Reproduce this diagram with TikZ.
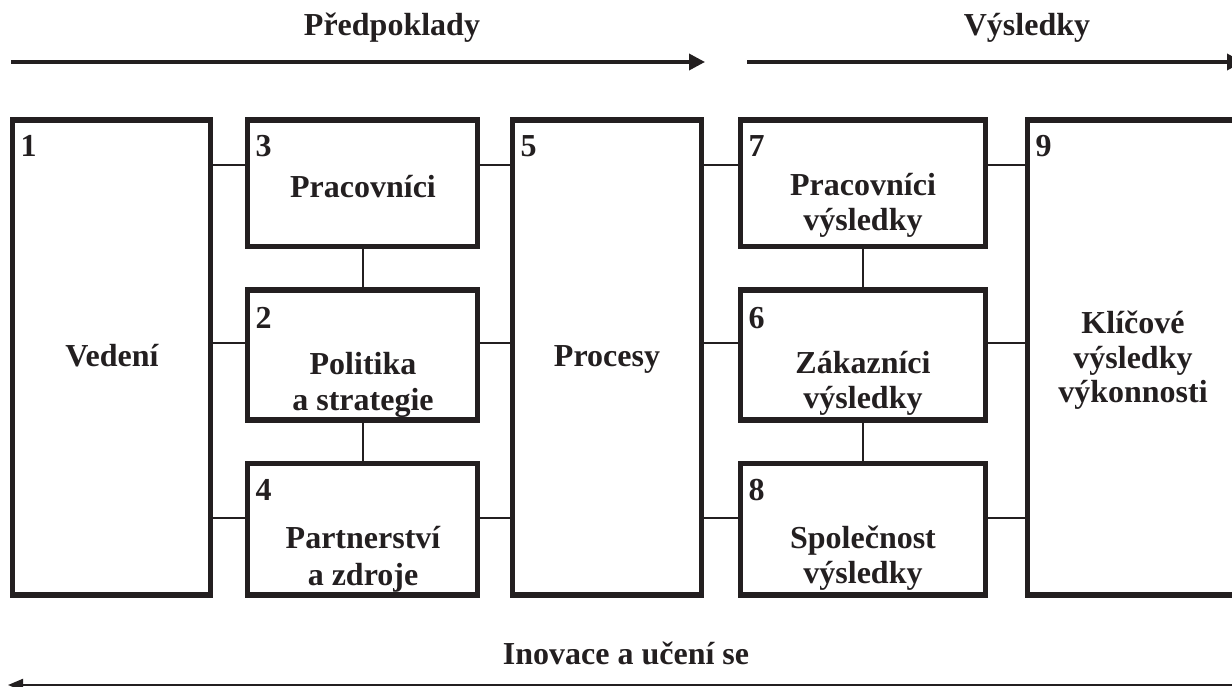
\documentclass[tikz,border=0pt]{standalone}
\usepackage{fontspec}
\setmainfont{Liberation Serif}
\usetikzlibrary{arrows.meta}
\definecolor{ink}{HTML}{231F20}
\begin{document}
\begin{tikzpicture}[x=1pt,y=-1pt,
  box/.style={draw=ink, line width=5.5pt, inner sep=0pt, outer sep=0pt, rectangle},
  conn/.style={draw=ink, line width=2pt},
  txt/.style={text=ink, inner sep=0pt, anchor=base, font=\fontsize{32}{36}\selectfont\bfseries},
  num/.style={txt, anchor=base west},
  flow/.style={draw=ink, line width=3.5pt, -{Triangle[length=16pt,width=16pt]}},
  backflow/.style={draw=ink, line width=2pt, -{Triangle[length=15pt,width=12pt]}},
]
\useasboundingbox (0,0) rectangle (1232,687);

% criteria boxes
\node[box, minimum width=198pt, minimum height=475pt]   (b1) at (111.5,357.5) {};
\node[box, minimum width=230pt, minimum height=126.5pt] (b3) at (362.5,183.25) {};
\node[box, minimum width=230pt, minimum height=130pt]   (b2) at (362.5,355) {};
\node[box, minimum width=230pt, minimum height=131.5pt] (b4) at (362.5,529.25) {};
\node[box, minimum width=189pt, minimum height=475pt]   (b5) at (607,357.5) {};
\node[box, minimum width=245pt, minimum height=126.5pt] (b7) at (863,183.25) {};
\node[box, minimum width=245pt, minimum height=130pt]   (b6) at (863,355) {};
\node[box, minimum width=245pt, minimum height=131.5pt] (b8) at (863,529.25) {};
\node[box, minimum width=212.5pt, minimum height=475pt] (b9) at (1133.75,357.5) {};

% connector levels
\coordinate (ra) at (0,165);
\coordinate (rb) at (0,343);
\coordinate (rc) at (0,518);

\foreach \l in {ra,rb,rc}{
  \draw[conn] (b1.east |- \l) -- (b3.west |- \l);
  \draw[conn] (b3.east |- \l) -- (b5.west |- \l);
  \draw[conn] (b5.east |- \l) -- (b7.west |- \l);
  \draw[conn] (b7.east |- \l) -- (b9.west |- \l);
}
\draw[conn] (b3.south) -- (b2.north);
\draw[conn] (b2.south) -- (b4.north);
\draw[conn] (b7.south) -- (b6.north);
\draw[conn] (b6.south) -- (b8.north);

% numbers
\node[num] (n1) at (20.5,157) {1};
\node[num] (n3) at (255.5,157) {3};
\node[num] (n2) at (255.5,328) {2};
\node[num] (n4) at (255.5,500) {4};
\node[num] (n5) at (520.5,157) {5};
\node[num] (n7) at (748.5,157) {7};
\node[num] (n6) at (748.5,328) {6};
\node[num] (n8) at (748.5,500) {8};
\node[num] (n9) at (1035.5,157) {9};

% box titles
\node[txt] (t1)  at (112,366) {Vedení};
\node[txt] (t3)  at (363,198) {Pracovníci};
\node[txt] (t2a) at (363,374) {Politika};
\node[txt] (t2b) at (363,410) {a strategie};
\node[txt] (t4a) at (363,548) {Partnerství};
\node[txt] (t4b) at (363,585) {a zdroje};
\node[txt] (t5)  at (607,366) {Procesy};
\node[txt] (t7a) at (863,196) {Pracovníci};
\node[txt] (t7b) at (863,231) {výsledky};
\node[txt] (t6a) at (863,373) {Zákazníci};
\node[txt] (t6b) at (863,408) {výsledky};
\node[txt] (t8a) at (863,548) {Společnost};
\node[txt] (t8b) at (863,583) {výsledky};
\node[txt] (t9a) at (1133,333) {Klíčové};
\node[txt] (t9b) at (1133,368) {výsledky};
\node[txt] (t9c) at (1133,402) {výkonnosti};

% direction arrows
\node[txt] (hp) at (392,36) {Předpoklady};
\node[txt] (hv) at (1027,36) {Výsledky};
\node[txt] (hi) at (626,664) {Inovace a učení se};
\coordinate (p0) at (11,62);
\coordinate (p1) at (705,62);
\coordinate (v0) at (747,62);
\coordinate (v1) at (1243,62);
\coordinate (i0) at (1240,685);
\coordinate (i1) at (8,685);
\draw[flow] (p0) -- (p1);
\draw[flow] (v0) -- (v1);
\draw[backflow] (i0) -- (i1);
\end{tikzpicture}
\end{document}
